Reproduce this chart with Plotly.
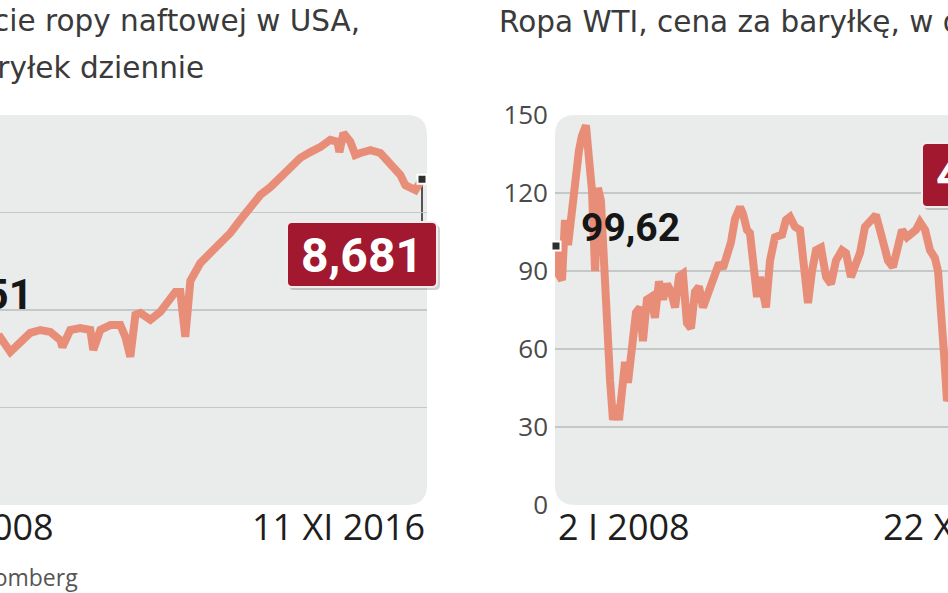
import datetime as dt
import plotly.graph_objects as go

# ---------------- data ----------------
# Left: US crude oil production, mln barrels per day
prod_dates = [
    "2008-01-04", "2008-03-07", "2008-06-06", "2008-08-15", "2008-09-12", "2008-10-17",
    "2008-12-12", "2009-02-13", "2009-04-17",
    "2009-05-21", "2009-07-25", "2009-09-28", "2009-12-01", "2010-02-04", "2010-04-10",
    "2010-06-14", "2010-06-27", "2010-08-17", "2010-10-21", "2010-12-25", "2011-01-13",
    "2011-02-28", "2011-05-04", "2011-07-07", "2011-08-09", "2011-09-10", "2011-10-13",
    "2011-11-14", "2012-01-18", "2012-03-22", "2012-05-26", "2012-06-28", "2012-07-30",
    "2012-08-31", "2012-10-03", "2012-12-06", "2013-02-09", "2013-04-15", "2013-06-19",
    "2013-08-23", "2013-10-26", "2013-12-30", "2014-03-05", "2014-05-09", "2014-07-12",
    "2014-09-15", "2014-11-19", "2015-01-22", "2015-03-28", "2015-05-13", "2015-05-26",
    "2015-06-21", "2015-08-05", "2015-09-06", "2015-10-09", "2015-12-13", "2016-02-15",
    "2016-04-20", "2016-06-24", "2016-07-26", "2016-09-29", "2016-11-11",
]
prod_values = [
    5.151, 5.10, 5.12, 5.00, 3.90, 4.70,
    5.00, 5.30, 5.40,
    5.44, 5.14, 5.32, 5.53, 5.59, 5.55,
    5.38, 5.24, 5.59, 5.63, 5.59, 5.18,
    5.59, 5.69, 5.69, 5.45, 5.04, 5.90,
    5.94, 5.80, 5.96, 6.27, 6.37, 6.37,
    5.45, 6.60, 6.96, 7.17, 7.37, 7.58,
    7.85, 8.11, 8.36, 8.52, 8.73, 8.93,
    9.12, 9.24, 9.34, 9.49, 9.45, 9.24,
    9.63, 9.45, 9.18, 9.22, 9.28, 9.22,
    9.02, 8.77, 8.56, 8.46, 8.681,
]

# Right: WTI crude, USD per barrel
wti_dates = [
    "2008-01-02", "2008-01-21", "2008-02-10", "2008-02-29", "2008-03-20", "2008-04-15",
    "2008-05-11", "2008-05-30", "2008-06-18", "2008-07-14", "2008-08-03", "2008-08-22",
    "2008-09-11", "2008-09-30", "2008-10-19", "2008-11-08", "2008-11-27", "2008-12-17",
    "2009-01-05", "2009-01-25", "2009-02-13",
    "2009-03-04", "2009-03-24", "2009-04-12", "2009-05-08", "2009-06-03", "2009-06-29",
    "2009-07-18", "2009-08-13", "2009-09-08", "2009-10-04", "2009-10-30", "2009-11-25",
    "2009-12-21", "2010-01-16", "2010-02-11", "2010-03-09", "2010-04-03", "2010-04-29",
    "2010-05-25", "2010-06-20", "2010-07-16", "2010-08-11", "2010-09-06", "2010-10-02",
    "2010-10-28", "2010-11-23", "2010-12-18", "2011-01-13", "2011-02-08", "2011-03-06",
    "2011-04-08", "2011-04-27",
    "2011-05-23", "2011-06-11", "2011-07-01", "2011-07-14", "2011-07-27", "2011-08-15",
    "2011-09-23", "2011-10-19", "2011-11-20", "2012-01-05", "2012-01-30", "2012-02-25",
    "2012-03-29", "2012-04-30", "2012-05-26", "2012-06-21", "2012-07-17", "2012-08-12",
    "2012-09-13", "2012-10-16", "2012-11-17", "2012-12-19", "2013-01-27", "2013-02-22",
    "2013-03-26", "2013-04-21", "2013-05-24", "2013-06-25", "2013-07-27", "2013-09-04",
    "2013-09-30", "2013-10-26", "2013-11-21", "2013-12-23", "2014-01-18", "2014-02-20",
    "2014-03-24", "2014-04-25", "2014-05-21", "2014-06-16", "2014-07-19", "2014-08-20",
    "2014-09-21", "2014-10-11", "2014-10-30", "2014-11-19", "2014-12-08", "2015-01-13",
    "2015-03-17", "2015-06-10", "2015-08-24", "2015-11-04", "2016-02-11", "2016-06-08",
    "2016-08-02", "2016-10-19", "2016-11-22",
]
wti_values = [
    99.62, 88.5, 86.5, 109.6, 100.0, 115.0,
    132.7, 136.5, 142.0, 146.0, 133.0, 121.0,
    90.0, 122.0, 117.0, 90.0, 67.0, 48.0,
    32.7, 38.5, 32.7,
    44.0, 55.0, 47.0, 60.0, 74.0, 76.0,
    63.0, 79.0, 80.0, 72.0, 86.0, 79.0,
    85.0, 82.0, 76.0, 88.0, 89.0, 70.0,
    68.0, 82.0, 84.0, 76.0, 80.0, 84.0,
    90.0, 93.0, 91.0, 95.0, 101.0, 110.0,
    114.6, 112.0,
    105.8, 104.6, 94.0, 91.5, 80.0, 87.7,
    76.0, 94.0, 103.0, 104.0, 109.6, 110.8,
    107.0, 105.8, 94.0, 77.7, 90.0, 98.0,
    99.0, 87.7, 85.0, 94.0, 98.0, 96.9,
    87.7, 93.0, 97.0, 107.0, 109.6, 111.5,
    105.8, 99.0, 94.0, 91.5, 98.0, 105.8,
    103.0, 105.0, 105.8, 108.8, 105.8, 98.0,
    95.0, 90.0, 78.0, 58.0, 40.0, 46.0,
    43.0, 61.0, 38.0, 46.0, 26.0, 51.0,
    40.0, 51.0, 48.03,
]

left_title = ["Wydobycie ropy naftowej w USA,", "w mln baryłek dziennie"]
right_title = "Ropa WTI, cena za baryłkę, w dol."
left_dates = ["2 I 2008", "11 XI 2016"]
right_dates = ["2 I 2008", "22 XI 2016"]
left_start_label = "5,151"
left_end_label = "8,681"
right_start_label = "99,62"
right_end_label = "48,03"
right_ticks = [0, 30, 60, 90, 120, 150]
source = "Źródło: Bloomberg"

# ---------------- layout helpers ----------------
W, H = 948, 593
def px(x):
    return x / W
def py(y):
    return 1 - y / H

PX_PER_DAY = 56.4 / 365.25
LINE = "#E88E78"
PANEL = "#EAEBEB"
GRID = "#C6C7C7"
BOX = "#A1182F"
FONT = "Open Sans"
TITLE_FONT = "DejaVu Sans"
BOLD = "Roboto"

def d(s):
    return dt.datetime.strptime(s, "%Y-%m-%d")

left_end = d(prod_dates[-1])
left_range = [left_end - dt.timedelta(days=422 / PX_PER_DAY),
              left_end + dt.timedelta(days=5 / PX_PER_DAY)]
right_start = d(wti_dates[0])
right_range = [right_start - dt.timedelta(days=1 / PX_PER_DAY),
               right_start + dt.timedelta(days=392 / PX_PER_DAY)]

def rrect(x0, y0, x1, y1, r):
    X0, X1 = px(x0), px(x1)
    Y0, Y1 = py(y0), py(y1)
    rx, ry = r / W, r / H
    return (f"M{X0+rx},{Y0} L{X1-rx},{Y0} Q{X1},{Y0} {X1},{Y0-ry} "
            f"L{X1},{Y1+ry} Q{X1},{Y1} {X1-rx},{Y1} L{X0+rx},{Y1} "
            f"Q{X0},{Y1} {X0},{Y1+ry} L{X0},{Y0-ry} Q{X0},{Y0} {X0+rx},{Y0} Z")

fig = go.Figure()

fig.add_trace(go.Scatter(x=prod_dates, y=prod_values, mode="lines",
                         line=dict(color=LINE, width=8), xaxis="x", yaxis="y",
                         hoverinfo="skip"))
fig.add_trace(go.Scatter(x=wti_dates, y=wti_values, mode="lines",
                         line=dict(color=LINE, width=8), xaxis="x2", yaxis="y2",
                         hoverinfo="skip"))
marker = dict(symbol="square", size=9, color="#2E2E2E", line=dict(color="white", width=2))
fig.add_trace(go.Scatter(x=[prod_dates[-1]], y=[prod_values[-1]], mode="markers",
                         marker=marker, xaxis="x", yaxis="y", cliponaxis=False,
                         hoverinfo="skip"))
fig.add_trace(go.Scatter(x=[wti_dates[0]], y=[wti_values[0]], mode="markers",
                         marker=marker, xaxis="x2", yaxis="y2", cliponaxis=False,
                         hoverinfo="skip"))
# invisible trace to activate the grid-only overlay axis
fig.add_trace(go.Scatter(x=[wti_dates[0]], y=[None], xaxis="x2", yaxis="y3",
                         mode="lines", hoverinfo="skip", showlegend=False))

shapes = [
    dict(type="path", xref="paper", yref="paper", path=rrect(-120, 115, 427, 505, 20),
         fillcolor=PANEL, line=dict(width=0), layer="below"),
    dict(type="path", xref="paper", yref="paper", path=rrect(555, 115, 1080, 505, 20),
         fillcolor=PANEL, line=dict(width=0), layer="below"),
    dict(type="line", xref="x", yref="y", x0=prod_dates[-1], x1=prod_dates[-1],
         y0=prod_values[-1], y1=7.4, line=dict(color="#222", width=1.5), layer="below"),
    dict(type="path", xref="paper", yref="paper", path=rrect(289, 225, 440, 290, 5),
         fillcolor="rgba(0,0,0,0.18)", line=dict(width=0), layer="above"),
    dict(type="path", xref="paper", yref="paper", path=rrect(287, 222, 437, 287, 5),
         fillcolor=BOX, line=dict(color="#F3ECEC", width=2), layer="above"),
    dict(type="path", xref="paper", yref="paper", path=rrect(924, 146, 1075, 210, 5),
         fillcolor="rgba(0,0,0,0.18)", line=dict(width=0), layer="above"),
    dict(type="path", xref="paper", yref="paper", path=rrect(922, 143, 1072, 207, 5),
         fillcolor=BOX, line=dict(color="#F3ECEC", width=2), layer="above"),
]

ann = []
def text(x, y, s, size, color, anchor="left", family=FONT, bold=False):
    ann.append(dict(xref="paper", yref="paper", x=px(x), y=py(y),
                    text=(f"<b>{s}</b>" if bold else s),
                    showarrow=False, xanchor=anchor, yanchor="middle",
                    font=dict(family=family, size=size, color=color)))

text(362, 21, left_title[0], 29.5, "#3A3A3A", "right", TITLE_FONT)
text(206, 68, left_title[1], 29.5, "#3A3A3A", "right", TITLE_FONT)
text(497, 22, right_title, 29.5, "#3A3A3A", "left", TITLE_FONT)
text(-80, 526, left_dates[0], 36, "#1E1E1E", "left")
text(427, 526, left_dates[1], 36, "#1E1E1E", "right")
text(556, 526, right_dates[0], 36, "#1E1E1E", "left")
text(1058, 526, right_dates[1], 36, "#1E1E1E", "right")
text(80, 577, source, 23, "#555555", "right")
text(35, 294, left_start_label, 42, "#161616", "right", BOLD, True)
text(579, 228, right_start_label, 39, "#161616", "left", BOLD, True)
text(362, 255, left_end_label, 48, "white", "center", BOLD, True)
text(997, 175, right_end_label, 48, "white", "center", BOLD, True)

fig.update_layout(
    width=W, height=H, margin=dict(l=0, r=0, t=0, b=0, pad=0, autoexpand=False),
    paper_bgcolor="white", plot_bgcolor="rgba(0,0,0,0)",
    showlegend=False, shapes=shapes, annotations=ann,
    xaxis=dict(domain=[0, px(427)], type="date", range=left_range, showgrid=False,
               showticklabels=False, zeroline=False, showline=False, fixedrange=True,
               automargin=False),
    yaxis=dict(domain=[py(505), py(115)], range=[2, 10], tickvals=[4, 6, 8],
               showgrid=True, gridcolor=GRID, gridwidth=1.5, showticklabels=False,
               zeroline=False, showline=False, fixedrange=True, automargin=False),
    xaxis2=dict(domain=[px(555), 1], type="date", range=right_range, anchor="y2",
                showgrid=False, showticklabels=False, zeroline=False, showline=False,
                fixedrange=True, automargin=False),
    yaxis2=dict(domain=[py(505), py(115)], range=[0, 150], anchor="x2",
                tickvals=right_ticks, ticktext=[str(v) for v in right_ticks],
                showgrid=False, zeroline=False, showline=False, ticks="",
                ticklabelstandoff=6, automargin=False,
                tickfont=dict(family=FONT, size=26, color="#4A4A4A"), fixedrange=True),
    yaxis3=dict(overlaying="y2", range=[0, 150], anchor="x2", tickvals=[30, 60, 90, 120],
                showgrid=True, gridcolor=GRID, gridwidth=1.5, showticklabels=False,
                zeroline=False, showline=False, ticks="", fixedrange=True, side="right",
                automargin=False),
)

fig.write_html("out.html",
               config={"staticPlot": True, "responsive": False},
               post_script="document.body.style.margin='0';document.documentElement.style.overflow='hidden';")
